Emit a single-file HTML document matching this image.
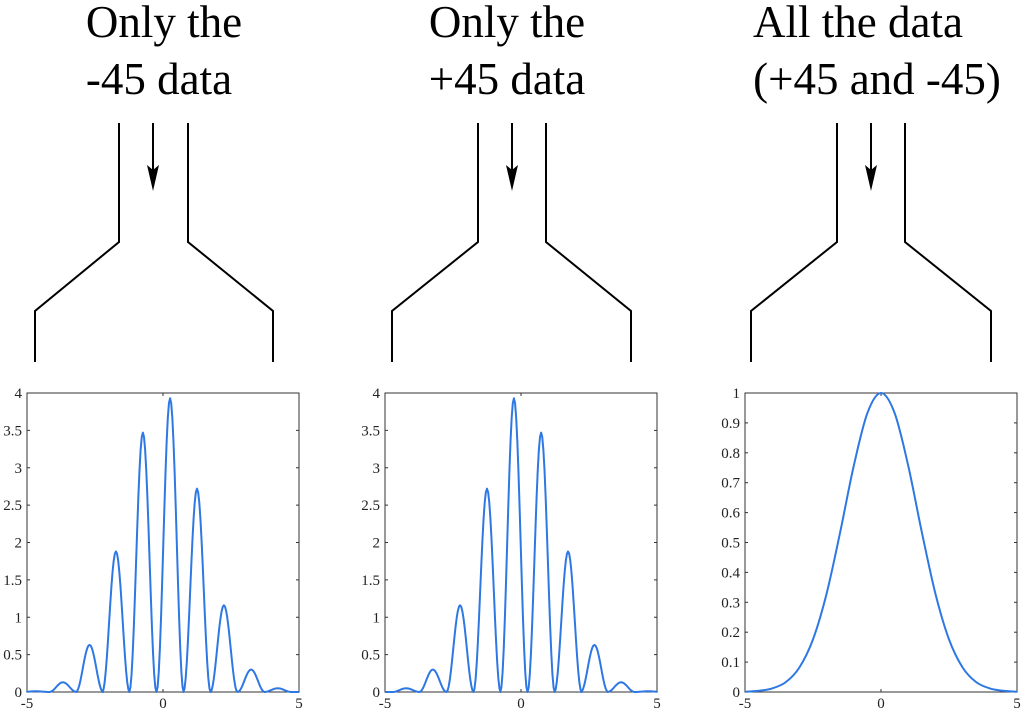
<!DOCTYPE html>
<html><head><meta charset="utf-8"><style>
body{margin:0;background:#fff;width:1024px;height:716px;overflow:hidden}
svg text{font-family:"Liberation Serif",serif}
</style></head><body>
<svg id="s" width="1024" height="716" viewBox="0 0 1024 716">
<g font-size="45" text-anchor="middle">
<text x="164" y="37">Only the</text><text x="159" y="94">-45 data</text></g>
<g font-size="45" text-anchor="middle">
<text x="507" y="37">Only the</text><text x="507" y="94">+45 data</text></g>
<g font-size="45" text-anchor="middle">
<text x="858" y="37">All the data</text><text x="877" y="94">(+45 and -45)</text></g>
<g id="funnels"></g>
<g id="charts"></g>
</svg>
<script>
// lobe data for -45 chart (centers on x-axis, heights)
const lobeCentersA=[-4.68,-3.68,-2.7,-1.73,-0.74,0.26,1.25,2.24,3.24,4.22];
const lobeHeightsA=[0.01,0.13,0.63,1.88,3.47,3.93,2.72,1.16,0.3,0.05];
// +45 chart (mirror)
const lobeCentersB=[-4.22,-3.24,-2.24,-1.25,-0.26,0.74,1.73,2.7,3.68,4.68];
const lobeHeightsB=[0.05,0.3,1.16,2.72,3.93,3.47,1.88,0.63,0.13,0.01];
// combined chart samples
const gaussX=[-5,-4.5,-4,-3.5,-3,-2.5,-2,-1.5,-1,-0.5,0,0.5,1,1.5,2,2.5,3,3.5,4,4.5,5];
const gaussY=[0.001,0.004,0.012,0.033,0.082,0.176,0.329,0.535,0.757,0.933,1,0.933,0.757,0.535,0.329,0.176,0.082,0.033,0.012,0.004,0.001];
const ticksA=[0,0.5,1,1.5,2,2.5,3,3.5,4];
const ticksC=[0,0.1,0.2,0.3,0.4,0.5,0.6,0.7,0.8,0.9,1];
const xTicks=[-5,0,5];
const NS="http://www.w3.org/2000/svg";
function el(t,a,p){const e=document.createElementNS(NS,t);for(const k in a)e.setAttribute(k,a[k]);p.appendChild(e);return e;}
const F=document.getElementById('funnels');
[[119,188,35,273,153],[478,546,392,631,512],[837,905,751,991,871]].forEach((f,i)=>{
 const g=el('g',{},F);
 
 
 el('path',{d:`M${f[0]},123 V242 L${f[2]},311 V362 M${f[1]},123 V242 L${f[3]},311 V362`,fill:'none',stroke:'#000','stroke-width':2},g);
 const a=el('line',{x1:f[4],y1:123,x2:f[4],y2:180,stroke:'#000','stroke-width':2},g);
 
 
 const h=el('path',{d:`M${f[4]-6},165 L${f[4]},191 L${f[4]+6},165 L${f[4]},170 Z`,fill:'#000'},g);
 
 
});
const C=document.getElementById('charts');
function axes(name,L,R,T,B,ymax,yt){
 const g=el('g',{},C);
 
 
 const sx=v=>L+(v+5)/10*(R-L), sy=v=>B-v/ymax*(B-T);
 el('rect',{x:L,y:T,width:R-L,height:B-T,fill:'none',stroke:'#333','stroke-width':1},g);
 yt.forEach(v=>{const y=sy(v);
  el('line',{x1:L,y1:y,x2:L+3,y2:y,stroke:'#333'},g);el('line',{x1:R,y1:y,x2:R-3,y2:y,stroke:'#333'},g);
  const t=el('text',{x:L-5,y:y+5,'font-size':15,'text-anchor':'end',fill:'#222'},g);t.textContent=String(v);
  });
 xTicks.forEach(v=>{const x=sx(v);
  el('line',{x1:x,y1:B,x2:x,y2:B-3,stroke:'#333'},g);el('line',{x1:x,y1:T,x2:x,y2:T+3,stroke:'#333'},g);
  const t=el('text',{x:x,y:B+16,'font-size':15,'text-anchor':'middle',fill:'#222'},g);t.textContent=String(v);
  });
 return {g,sx,sy};
}
function lobes(ax,cs,hs){
 let d='M'+ax.sx(-5)+','+ax.sy(0);
 cs.forEach((c,i)=>{const a=Math.max(-5,c-0.5),b=Math.min(5,c+0.5);
  for(let k=0;k<=24;k++){const x=a+(b-a)*k/24;const s=Math.sin(Math.PI*(x-(c-0.5)));d+=' L'+ax.sx(x).toFixed(2)+','+ax.sy(hs[i]*s*s).toFixed(2);}
 });
 d+=' L'+ax.sx(5)+','+ax.sy(0);
 const p=el('path',{d,fill:'none',stroke:'#2e78e4','stroke-width':2,'stroke-linejoin':'round'},ax.g);
 
}
lobes(axes('chart-minus45',27,299,393,692,4,ticksA),lobeCentersA,lobeHeightsA);
lobes(axes('chart-plus45',385,657,393,692,4,ticksA),lobeCentersB,lobeHeightsB);
const ax3=axes('chart-all-data',745,1017,393,692,1,ticksC);
let pts=gaussX.map((x,i)=>[ax3.sx(x),ax3.sy(gaussY[i])]);
let d='M'+pts[0].join(',');
for(let i=0;i<pts.length-1;i++){const p0=pts[Math.max(0,i-1)],p1=pts[i],p2=pts[i+1],p3=pts[Math.min(pts.length-1,i+2)];
 d+=` C${p1[0]+(p2[0]-p0[0])/6},${p1[1]+(p2[1]-p0[1])/6} ${p2[0]-(p3[0]-p1[0])/6},${p2[1]-(p3[1]-p1[1])/6} ${p2[0]},${p2[1]}`;}
const gp=el('path',{d,fill:'none',stroke:'#2e78e4','stroke-width':2},ax3.g);


</script>
</body></html>
